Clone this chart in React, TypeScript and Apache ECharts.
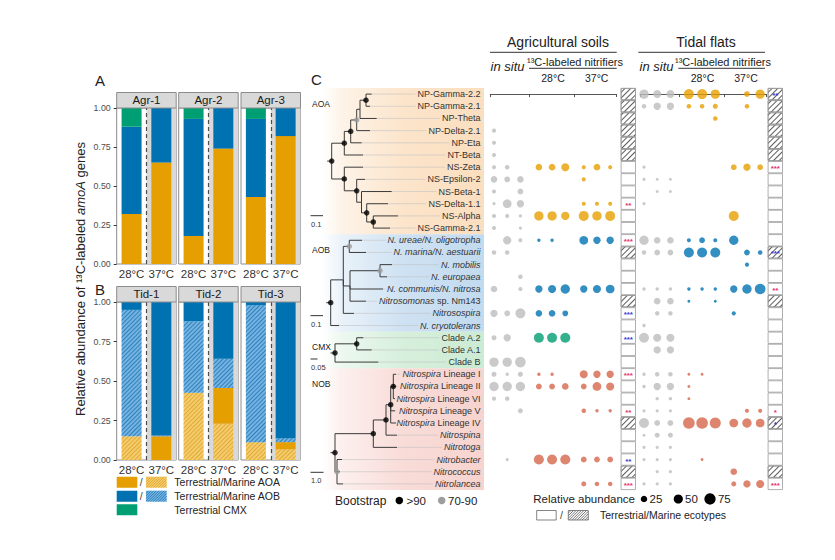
import React, { useEffect, useRef } from 'react';
import * as echarts from 'echarts';

const FONT = '"Liberation Sans", Arial, Helvetica, sans-serif';
const INK = '#222222';

// ---------------- Panels A / B : stacked proportions ----------------
const temps = ['28°C', '37°C'];
const agrFacets = ['Agr-1', 'Agr-2', 'Agr-3'];
const tidFacets = ['Tid-1', 'Tid-2', 'Tid-3'];
// each facet: [28°C, 37°C]
const agrAOA = [[0.32, 0.65], [0.18, 0.74], [0.43, 0.82]];
const agrAOB = [[0.56, 0.35], [0.75, 0.26], [0.5, 0.18]];
const agrCMX = [[0.12, 0], [0.07, 0], [0.07, 0]];
const tidMarineAOA = [[0.15, 0], [0.425, 0.23], [0.113, 0.068]];
const tidTerrAOA = [[0, 0.15], [0, 0.226], [0, 0.045]];
const tidMarineAOB = [[0.8, 0.005], [0.452, 0.185], [0.866, 0.025]];
const tidTerrAOB = [[0.05, 0.845], [0.123, 0.359], [0.021, 0.862]];

// ---------------- Panel C : tree + bubbles ----------------
const taxa = [
  'NP-Gamma-2.2', 'NP-Gamma-2.1', 'NP-Theta', 'NP-Delta-2.1', 'NP-Eta', 'NT-Beta',
  'NS-Zeta', 'NS-Epsilon-2', 'NS-Beta-1', 'NS-Delta-1.1', 'NS-Alpha', 'NS-Gamma-2.1',
  '_N. ureae/N. oligotropha_', '_N. marina/N. aestuarii_', '_N. mobilis_', '_N. europaea_',
  '_N. communis/N. nitrosa_', '_Nitrosomonas_ sp. Nm143', '_Nitrosospira_', '_N. cryotolerans_',
  'Clade A.2', 'Clade A.1', 'Clade B',
  '_Nitrospira_ Lineage I', '_Nitrospira_ Lineage II', '_Nitrospira_ Lineage VI',
  '_Nitrospira_ Lineage V', '_Nitrospira_ Lineage IV', '_Nitrospina_', '_Nitrotoga_',
  '_Nitrobacter_', '_Nitrococcus_', '_Nitrolancea_',
];
// [name, firstRow, lastRow]
const groups: [string, number, number][] = [['AOA', 0, 11], ['AOB', 12, 19], ['CMX', 20, 22], ['NOB', 23, 32]];
const groupColors = ['#E69F00', '#0072B2', '#009E73', '#D4674A'];
const groupBg = [[251, 222, 190], [194, 218, 239], [204, 235, 211], [247, 211, 206]];

// internal nodes: [id, parent, depth, bootstrap (0 none, 1 = 70-90, 2 = >90)]
const treeNodes: [string, string | null, number, number][] = [
  ['A0', null, 9.7, 2], ['A1', 'A0', 22.3, 2], ['A2', 'A1', 28.7, 2], ['A3', 'A2', 34.7, 1],
  ['A4', 'A3', 38, 0], ['A5', 'A4', 44, 2], ['A6', 'A0', 22.3, 2], ['A7', 'A6', 34.7, 2],
  ['A8', 'A7', 39.5, 0], ['A9', 'A8', 44.7, 2], ['A10', 'A9', 51.3, 2],
  ['B0', null, 8.7, 2], ['B1', 'B0', 21.3, 0], ['B2', 'B1', 27.3, 1], ['B3', 'B1', 28, 0], ['B4', 'B3', 58, 1],
  ['C0', null, 13, 2], ['C1', 'C0', 34.7, 2],
  ['N0', null, 13, 2], ['N1', 'N0', 51.3, 2], ['N2', 'N1', 64, 2], ['N3', 'N2', 68.7, 2],
  ['N4', 'N3', 71.3, 2], ['N5', 'N0', 15, 1],
];
// tips, one per row: [parent, depth]
const treeTips: [string, number][] = [
  ['A5', 49.7], ['A5', 48], ['A4', 54.7], ['A3', 48], ['A2', 39.7], ['A1', 41],
  ['A6', 41], ['A7', 43], ['A8', 69.7], ['A9', 66], ['A10', 76], ['A10', 68],
  ['B2', 40], ['B2', 44], ['B4', 70], ['B4', 65], ['B3', 61], ['B3', 44], ['B1', 32], ['B0', 17],
  ['C1', 41.3], ['C1', 49.7], ['C0', 56.3],
  ['N4', 74], ['N4', 74], ['N4', 73], ['N3', 73], ['N3', 74], ['N2', 75], ['N1', 75],
  ['N5', 20], ['N5', 18], ['N5', 21],
];
// scale bars: [group, label]
const scaleBars = [['AOA', '0.1'], ['AOB', '0.1'], ['CMX', '0.05'], ['NOB', '1.0']];

// bubble rows: [row, rep1, rep2, rep3] relative abundance (%)
const agrInSitu = [
  [3, 10, 0, 0], [4, 10, 0, 0], [5, 10, 0, 0], [6, 10, 12, 0], [7, 26, 20, 26], [8, 10, 0, 20],
  [9, 6, 45, 32], [10, 10, 10, 6], [11, 10, 0, 6], [12, 0, 41, 10], [13, 12, 12, 0], [15, 0, 0, 12],
  [16, 26, 0, 10], [18, 32, 20, 59], [20, 15, 32, 0], [22, 52, 52, 67], [23, 15, 7, 15],
  [24, 52, 52, 52], [25, 10, 12, 0], [26, 0, 0, 15], [30, 0, 6, 0],
];
const agr28 = [
  [6, 26, 26, 38], [10, 52, 52, 41], [12, 7, 7, 0], [16, 32, 38, 52], [18, 26, 26, 20],
  [20, 59, 59, 59], [23, 7, 7, 0], [24, 20, 20, 26], [30, 59, 59, 59],
];
const agr37 = [
  [6, 10, 26, 10], [7, 10, 0, 0], [9, 10, 10, 10], [10, 59, 52, 59], [12, 45, 32, 32],
  [16, 32, 38, 45], [23, 38, 32, 32], [24, 20, 45, 38], [26, 12, 7, 7], [30, 20, 20, 20], [32, 15, 12, 12],
];
const tidInSitu = [
  [0, 52, 38, 38], [1, 12, 32, 32], [6, 6, 0, 0], [7, 6, 5, 5], [8, 0, 5, 5], [9, 6, 0, 0],
  [12, 52, 26, 26], [13, 12, 20, 20], [16, 7, 7, 7], [17, 0, 26, 26], [18, 0, 12, 12], [19, 7, 0, 0],
  [20, 59, 38, 38], [21, 0, 32, 32], [23, 7, 12, 12], [24, 7, 32, 32], [25, 0, 7, 7], [26, 6, 6, 6],
  [27, 59, 20, 20], [28, 5, 15, 15], [29, 6, 6, 6], [30, 6, 6, 6], [31, 0, 6, 6], [32, 6, 6, 6],
];
const tid28 = [
  [0, 59, 59, 52], [1, 12, 12, 15], [2, 0, 0, 12], [12, 10, 20, 10], [13, 59, 59, 59], [16, 7, 7, 7],
  [17, 5, 0, 5], [23, 5, 5, 0], [24, 5, 0, 0], [25, 5, 0, 0], [27, 80, 80, 72], [30, 0, 5, 0],
];
const tid37 = [
  [0, 0, 20, 52], [1, 0, 12, 0], [6, 20, 32, 20], [10, 59, 0, 0], [12, 52, 0, 0], [13, 0, 20, 12],
  [14, 0, 10, 0], [16, 32, 52, 67], [18, 10, 0, 0], [26, 0, 10, 10], [27, 45, 52, 45], [31, 26, 0, 0],
  [32, 15, 32, 38],
];
const marineRows = [0, 1, 2, 3, 4, 5, 13, 17, 27, 31];
// significance: [row, stars, colour key]
const agrStars: [number, string, string][] = [
  [9, '**', 'r'], [12, '***', 'r'], [18, '***', 'b'], [20, '***', 'b'], [23, '***', 'r'],
  [26, '**', 'r'], [30, '**', 'b'], [32, '***', 'r'],
];
const tidStars: [number, string, string][] = [
  [0, '**', 'b'], [6, '***', 'r'], [13, '***', 'b'], [16, '**', 'r'], [26, '*', 'r'],
  [27, '*', 'b'], [32, '***', 'r'],
];
const bubbleLegend = [25, 50, 75];

// ---------------- helpers ----------------
const bubbleSize = (v: number) => 1.3 * Math.sqrt(v);
const rowColor = (row: number) => {
  const g = groups.findIndex(([, a, b]) => row >= a && row <= b);
  return groupColors[g];
};
const rgba = (c: number[], a: number) => `rgba(${c[0]},${c[1]},${c[2]},${a})`;
const splitMarkup = (s: string) => s.split('_').map((t, i) => ({ t, it: i % 2 === 1 })).filter((p) => p.t);
const richLabel = (s: string) => splitMarkup(s).map((p) => `{${p.it ? 'i' : 'n'}|${p.t}}`).join('');

let measureCtx: CanvasRenderingContext2D | null = null;
function measure(s: string, size: number) {
  if (!measureCtx) measureCtx = document.createElement('canvas').getContext('2d');
  let w = 0;
  for (const p of splitMarkup(s)) {
    measureCtx!.font = `${p.it ? 'italic ' : ''}${size}px "Liberation Sans", Arial, sans-serif`;
    w += measureCtx!.measureText(p.t).width;
  }
  return w;
}

const T = (text: string, x: number, y: number, o: any = {}) => ({
  type: 'text', x, y, silent: true, z: 10,
  style: { text, fill: INK, fontSize: 11, fontFamily: FONT, align: 'left', verticalAlign: 'middle', ...o },
});
const L = (x1: number, y1: number, x2: number, y2: number, stroke = '#333', lineWidth = 1) => ({
  type: 'line', silent: true, z: 10, shape: { x1, y1, x2, y2 }, style: { stroke, lineWidth },
});
const R = (x: number, y: number, width: number, height: number, fill: string, stroke?: string, lw = 0.8) => ({
  type: 'rect', silent: true, z: 10, shape: { x, y, width, height },
  style: { fill, stroke: stroke || null, lineWidth: stroke ? lw : 0 },
});
function hatch(x: number, y: number, w: number, h: number, step: number, color: string, lw = 0.8) {
  const out: any[] = [];
  for (let k = -h; k < w; k += step) {
    let x1 = x + k, y1 = y + h, x2 = x + k + h, y2 = y;
    if (x1 < x) { const t = x - x1; x1 = x; y1 = y + h - t; }
    if (x2 > x + w) { const t = x2 - (x + w); x2 = x + w; y2 = y + t; }
    if (x2 > x1) out.push(L(x1, y1, x2, y2, color, lw));
  }
  return out;
}
const decal = (color: string, gap = 2) => ({
  symbol: 'rect', symbolSize: 1, dashArrayX: [1, 0], dashArrayY: [1, gap], rotation: -Math.PI / 4, color,
});

function buildOption() {
  const grids: any[] = [];
  const xAxes: any[] = [];
  const yAxes: any[] = [];
  const series: any[] = [];
  const graphics: any[] = [];
  const baseGrid = { containLabel: false, outerBoundsMode: 'none' };
  const addGrid = (g: any) => { grids.push({ ...baseGrid, ...g }); return grids.length - 1; };
  const addX = (a: any) => { xAxes.push(a); return xAxes.length - 1; };
  const addY = (a: any) => { yAxes.push(a); return yAxes.length - 1; };

  // ---------- A / B facets ----------
  const facetLeft = [116.7, 178.7, 241];
  const facetW = 59.5;
  const rowsAB = [
    { top: 108, h: 156, names: agrFacets },
    { top: 302, h: 158, names: tidFacets },
  ];
  for (let f = 0; f < 6; f++) {
    const r = Math.floor(f / 3), c = f % 3;
    const { top, h, names } = rowsAB[r];
    const gi = addGrid({ left: facetLeft[c], top, width: facetW, height: h, show: true, borderColor: '#8c8c8c', borderWidth: 1, backgroundColor: 'transparent' });
    const xi = addX({
      gridIndex: gi, type: 'category', data: temps,
      axisLine: { show: false }, splitLine: { show: false }, axisTick: { show: false },
      axisLabel: { fontSize: 11.5, color: '#333', margin: 4, fontFamily: FONT, interval: 0 },
    });
    const xb = addX({ gridIndex: gi, type: 'value', min: 0.5, max: 2.5, show: false });
    const yi = addY({
      gridIndex: gi, type: 'value', min: 0, max: 1, interval: 0.25,
      axisLine: { show: false }, splitLine: { show: false },
      axisTick: { show: c === 0, length: 3, lineStyle: { color: '#333' } },
      axisLabel: { show: c === 0, fontSize: 8.8, color: '#4d4d4d', margin: 6, fontFamily: FONT, formatter: (v: number) => v.toFixed(2) },
    });
    // background half + dashed divider
    series.push({
      type: 'line', xAxisIndex: xb, yAxisIndex: yi, data: [], silent: true,
      markArea: { silent: true, itemStyle: { color: '#D9D9D9' }, data: [[{ xAxis: 1.5 }, { xAxis: 2.5 }]] },
      markLine: { silent: true, symbol: ['none', 'none'], label: { show: false }, lineStyle: { type: [4, 3], color: '#4d4d4d', width: 1.2 }, data: [{ xAxis: 1.5 }] },
    });
    const mk = (name: string, vals: number[], itemStyle: any) => ({
      type: 'bar', name, xAxisIndex: xi, yAxisIndex: yi, stack: 'st' + f, barWidth: 20, silent: true,
      itemStyle, data: vals,
    });
    if (r === 0) {
      series.push(mk('AOA', agrAOA[c], { color: groupColors[0] }));
      series.push(mk('AOB', agrAOB[c], { color: groupColors[1] }));
      series.push(mk('CMX', agrCMX[c], { color: groupColors[2] }));
    } else {
      series.push(mk('Marine AOA', tidMarineAOA[c], { color: '#F3CC6E', decal: decal('rgba(214,140,0,0.55)') }));
      series.push(mk('Terrestrial AOA', tidTerrAOA[c], { color: groupColors[0] }));
      series.push(mk('Marine AOB', tidMarineAOB[c], { color: '#74B3E2', decal: decal('rgba(0,95,160,0.6)') }));
      series.push(mk('Terrestrial AOB', tidTerrAOB[c], { color: groupColors[1] }));
    }
    // strip
    graphics.push(R(facetLeft[c], top - 15.5, facetW, 15.5, '#D9D9D9', '#8c8c8c', 1));
    graphics.push(T(names[c], facetLeft[c] + facetW / 2, top - 7.6, { align: 'center', fontSize: 11.5, fill: '#1a1a1a' }));
  }
  graphics.push(T('A', 100, 80, { fontSize: 15, align: 'center' }));
  graphics.push(T('B', 100, 289.5, { fontSize: 15, align: 'center' }));
  graphics.push({
    type: 'text', x: 80, y: 279, rotation: Math.PI / 2, silent: true, z: 10,
    style: {
      text: '{t|Relative abundance of ¹³C-labeled }{i|amoA}{t| genes}', align: 'center', verticalAlign: 'middle',
      rich: {
        t: { fontSize: 13, fontFamily: FONT, fill: INK },
        i: { fontSize: 13, fontFamily: FONT, fontStyle: 'italic', fill: INK },
      },
    },
  });
  // A/B legend
  const lgRows = [
    { y: 476.7, solid: groupColors[0], light: '#F3CC6E', line: 'rgba(214,140,0,0.7)', text: 'Terrestrial/Marine AOA' },
    { y: 490.7, solid: groupColors[1], light: '#74B3E2', line: 'rgba(0,95,160,0.75)', text: 'Terrestrial/Marine AOB' },
    { y: 504.3, solid: groupColors[2], light: null, line: '', text: 'Terrestrial CMX' },
  ];
  lgRows.forEach((g) => {
    graphics.push(R(116.7, g.y, 20.6, 11, g.solid));
    if (g.light) {
      graphics.push(T('/', 141.3, g.y + 5.5, { fontSize: 10.5, align: 'center', fill: '#444' }));
      graphics.push(R(146, g.y, 20.7, 11, g.light));
      graphics.push(...hatch(146, g.y, 20.7, 11, 2.6, g.line, 0.8));
    }
    graphics.push(T(g.text, 174.3, g.y + 5.6, { fontSize: 10.5 }));
  });

  // ---------- Panel C: tree ----------
  const rowTop = 88, rowH = 402, treeLeft = 322, treeW = 162;
  const rowCount = taxa.length;
  const tg = addGrid({ left: treeLeft, top: rowTop, width: treeW, height: rowH });
  const tx = addX({ gridIndex: tg, type: 'value', min: 0, max: treeW, show: false });
  const labelSize = 9;
  const ty = addY({
    gridIndex: tg, type: 'value', min: -0.5, max: rowCount - 0.5, inverse: true, position: 'right', z: 20,
    axisLine: { show: false }, axisTick: { show: false }, splitLine: { show: false },
    axisLabel: {
      inside: true, margin: 3.5, customValues: taxa.map((_, i) => i),
      formatter: (v: number) => richLabel(taxa[Math.round(v)]),
      rich: {
        n: { fontSize: labelSize, color: '#333', fontFamily: FONT },
        i: { fontSize: labelSize, color: '#333', fontFamily: FONT, fontStyle: 'italic' },
      },
    },
  });
  const nodes: Record<string, any> = {};
  treeNodes.forEach(([id, parent, x, boot]) => (nodes[id] = { id, parent, x, boot, kids: [] as string[] }));
  treeTips.forEach(([parent, x], row) => (nodes['t' + row] = { id: 't' + row, parent, x, boot: 0, kids: [], row }));
  Object.values(nodes).forEach((n: any) => { if (n.parent) nodes[n.parent].kids.push(n.id); });
  const yOf = (id: string): number => {
    const n = nodes[id];
    if (n.y !== undefined) return n.y;
    if (n.row !== undefined) return (n.y = n.row);
    const ys = n.kids.map(yOf);
    return (n.y = (Math.min(...ys) + Math.max(...ys)) / 2);
  };
  Object.keys(nodes).forEach(yOf);
  const edges: any[] = [];
  Object.values(nodes).forEach((n: any) => {
    if (n.parent) {
      const p = nodes[n.parent];
      edges.push({ coords: [[p.x, p.y], [p.x, n.y], [n.x, n.y]] });
    } else {
      edges.push({ coords: [[n.x - 4.5, n.y], [n.x, n.y]] });
    }
  });
  const labelRight = treeLeft + treeW - 3.5;
  const leaders = treeTips.map(([, x], row) => {
    const end = labelRight - measure(taxa[row], labelSize) - 2 - treeLeft;
    return { coords: [[x, row], [Math.max(x, end), row]] };
  });
  series.push({
    type: 'scatter', xAxisIndex: tx, yAxisIndex: ty, data: [], silent: true, z: 0,
    markArea: {
      silent: true,
      data: groups.map(([, a, b], gi) => [
        {
          yAxis: a - 0.5,
          itemStyle: {
            color: {
              type: 'linear', x: 0, y: 0, x2: 1, y2: 0,
              colorStops: [
                { offset: 0, color: rgba(groupBg[gi], 0.0) },
                { offset: 0.12, color: rgba(groupBg[gi], 0.35) },
                { offset: 0.5, color: rgba(groupBg[gi], 0.8) },
                { offset: 1, color: rgba(groupBg[gi], 1) },
              ],
            },
          },
        },
        { yAxis: b + 0.5 },
      ]),
    },
  });
  series.push({
    type: 'lines', coordinateSystem: 'cartesian2d', xAxisIndex: tx, yAxisIndex: ty, polyline: true, silent: true, z: 2,
    lineStyle: { color: '#c2c2c2', width: 0.6, opacity: 1 }, data: leaders,
  });
  series.push({
    type: 'lines', coordinateSystem: 'cartesian2d', xAxisIndex: tx, yAxisIndex: ty, polyline: true, silent: true, z: 3,
    lineStyle: { color: '#3a3a3a', width: 1, opacity: 1 }, data: edges,
  });
  series.push({
    type: 'scatter', xAxisIndex: tx, yAxisIndex: ty, silent: true, z: 4, symbolSize: 5.5,
    data: Object.values(nodes).filter((n: any) => n.boot > 0).map((n: any) => ({
      value: [n.x, n.y], itemStyle: { color: n.boot === 2 ? '#000' : '#9e9e9e' },
    })),
  });
  const rowPx = (row: number) => rowTop + (rowH / rowCount) * (row + 0.5);
  graphics.push(T('C', 316.5, 79, { fontSize: 15, align: 'center' }));
  groups.forEach(([name, a]) => graphics.push(T(name, 312, rowPx(a) + 9.5, { fontSize: 8.5 })));
  const barY = { AOA: rowPx(11) - 12.4, AOB: rowPx(19) - 9.9, CMX: rowPx(22) - 3.1, NOB: rowPx(32) - 11.6 } as any;
  const barLen = { '0.1': 12.5, '0.05': 7, '1.0': 13 } as any;
  scaleBars.forEach(([g, lab]) => {
    const y = barY[g];
    graphics.push(L(310.5, y, 310.5 + barLen[lab], y, '#333', 1));
    graphics.push(T(lab, 311, y + 8.5, { fontSize: 7.5, fill: '#333' }));
  });
  // bootstrap legend
  graphics.push(T('Bootstrap', 335, 500.5, { fontSize: 12 }));
  graphics.push({ type: 'circle', silent: true, z: 10, shape: { cx: 399.3, cy: 500.5, r: 3.8 }, style: { fill: '#000' } });
  graphics.push(T('>90', 406.5, 500.5, { fontSize: 11.5 }));
  graphics.push({ type: 'circle', silent: true, z: 10, shape: { cx: 441.7, cy: 500.5, r: 3.8 }, style: { fill: '#9e9e9e' } });
  graphics.push(T('70-90', 448, 500.5, { fontSize: 11.5 }));

  // ---------- bubble matrices ----------
  const colOffsets = [0, 3.4, 6.8];
  const panels = [
    { left: 490.3, ecoLeft: 620.7, inSitu: agrInSitu, c28: agr28, c37: agr37, stars: agrStars, title: 'Agricultural soils', tx: 558, sitx: 507.5, nx: 575, l1: [490, 616.7], l2: [529, 616.7], t28: 553, t37: 596.7 },
    { left: 640.3, ecoLeft: 767.7, inSitu: tidInSitu, c28: tid28, c37: tid37, stars: tidStars, title: 'Tidal flats', tx: 706, sitx: 656.5, nx: 723, l1: [638.3, 765], l2: [678.3, 765], t28: 702.5, t37: 746 },
  ];
  panels.forEach((p) => {
    const gi = addGrid({ left: p.left, top: rowTop, width: 125.8, height: rowH });
    const xi = addX({
      gridIndex: gi, type: 'value', position: 'top', min: -0.28, max: 9.25, offset: 3,
      axisLine: { show: true, lineStyle: { color: '#444', width: 0.9 } },
      axisTick: { show: true, inside: true, length: 3, customValues: [-0.28, 2.7, 6.1, 9.25], lineStyle: { color: '#444', width: 0.9 } },
      axisLabel: { show: false }, splitLine: { show: false },
    });
    const yi = addY({ gridIndex: gi, type: 'value', min: -0.5, max: rowCount - 0.5, inverse: true, show: false });
    const gray: any[] = [];
    p.inSitu.forEach(([row, ...vals]) => vals.forEach((v, j) => { if (v > 0) gray.push([colOffsets[0] + j, row, v]); }));
    const col: any[] = [];
    ([[p.c28, colOffsets[1]], [p.c37, colOffsets[2]]] as [number[][], number][]).forEach(([arr, off]) =>
      arr.forEach(([row, ...vals]) => vals.forEach((v, j) => {
        if (v > 0) col.push({ value: [off + j, row, v], itemStyle: { color: rowColor(row) } });
      })));
    series.push({ type: 'scatter', xAxisIndex: xi, yAxisIndex: yi, silent: true, symbolSize: (d: number[]) => bubbleSize(d[2]), itemStyle: { color: '#BDBDBD' }, data: gray });
    series.push({ type: 'scatter', xAxisIndex: xi, yAxisIndex: yi, silent: true, symbolSize: (d: number[]) => bubbleSize(d[2]), data: col });

    // ecotype column
    const ei = addGrid({ left: p.ecoLeft, top: rowTop, width: 15.2, height: rowH });
    const ex = addX({ gridIndex: ei, type: 'value', min: 0, max: 1, show: false });
    const ey = addY({ gridIndex: ei, type: 'category', data: taxa.map((_, i) => String(i)), inverse: true, show: false });
    series.push({
      type: 'bar', xAxisIndex: ex, yAxisIndex: ey, silent: true, barCategoryGap: '0%',
      data: taxa.map((_, row) => {
        const st = p.stars.find((s) => s[0] === row);
        const marine = marineRows.includes(row);
        return {
          value: 1,
          itemStyle: { color: '#ffffff', borderColor: '#9a9a9a', borderWidth: 0.8, decal: marine ? decal('#5a5a5a', 2.6) : undefined },
          label: st
            ? { show: true, position: 'inside', formatter: st[1], color: st[2] === 'r' ? '#E2336B' : '#3A3ACF', fontSize: 8, fontWeight: 'bold', offset: [0, 1.5], fontFamily: FONT }
            : { show: false },
        };
      }),
    });

    // headers
    graphics.push(T(p.title, p.tx, 41.5, { fontSize: 14, align: 'center' }));
    graphics.push(L(p.l1[0], 52.3, p.l1[1], 52.3, '#333', 1));
    graphics.push(T('in situ', p.sitx, 66.5, { fontSize: 13, fontStyle: 'italic', align: 'center' }));
    graphics.push(T('¹³C-labeled nitrifiers', p.nx, 61.5, { fontSize: 11, align: 'center' }));
    graphics.push(L(p.l2[0], 68.3, p.l2[1], 68.3, '#333', 1));
    graphics.push(T('28°C', p.t28, 77.5, { fontSize: 10.5, align: 'center' }));
    graphics.push(T('37°C', p.t37, 77.5, { fontSize: 10.5, align: 'center' }));
  });

  // bubble legend
  graphics.push(T('Relative abundance', 533.3, 499, { fontSize: 11.5 }));
  const lgX = [644, 678.3, 710];
  bubbleLegend.forEach((v, i) => {
    graphics.push({ type: 'circle', silent: true, z: 10, shape: { cx: lgX[i], cy: 499, r: bubbleSize(v) / 2 }, style: { fill: '#000' } });
    graphics.push(T(String(v), lgX[i] + 5.5 + i * 1.2, 499, { fontSize: 11.5 }));
  });
  graphics.push(R(536.7, 510.5, 19.5, 9.5, '#fff', '#666', 0.8));
  graphics.push(T('/', 561.5, 515.3, { fontSize: 10.5, align: 'center', fill: '#444' }));
  graphics.push(R(568.3, 510.5, 20, 9.5, '#fff'));
  graphics.push(...hatch(568.3, 510.5, 20, 9.5, 2.6, '#555', 0.8));
  graphics.push(R(568.3, 510.5, 20, 9.5, 'transparent', '#666', 0.8));
  graphics.push(T('Terrestrial/Marine ecotypes', 600, 515.3, { fontSize: 10.5 }));

  return {
    animation: false,
    backgroundColor: '#ffffff',
    textStyle: { fontFamily: FONT },
    grid: grids,
    xAxis: xAxes,
    yAxis: yAxes,
    series,
    graphic: { elements: graphics },
  };
}

export default function App() {
  const ref = useRef<HTMLDivElement>(null);
  useEffect(() => {
    if (!ref.current) return;
    const chart = echarts.init(ref.current, null, { renderer: 'svg', width: 835, height: 560 });
    chart.setOption(buildOption() as any);
    return () => chart.dispose();
  }, []);
  return <div ref={ref} style={{ position: 'absolute', left: 0, top: 0, width: 835, height: 560, background: '#fff' }} />;
}
